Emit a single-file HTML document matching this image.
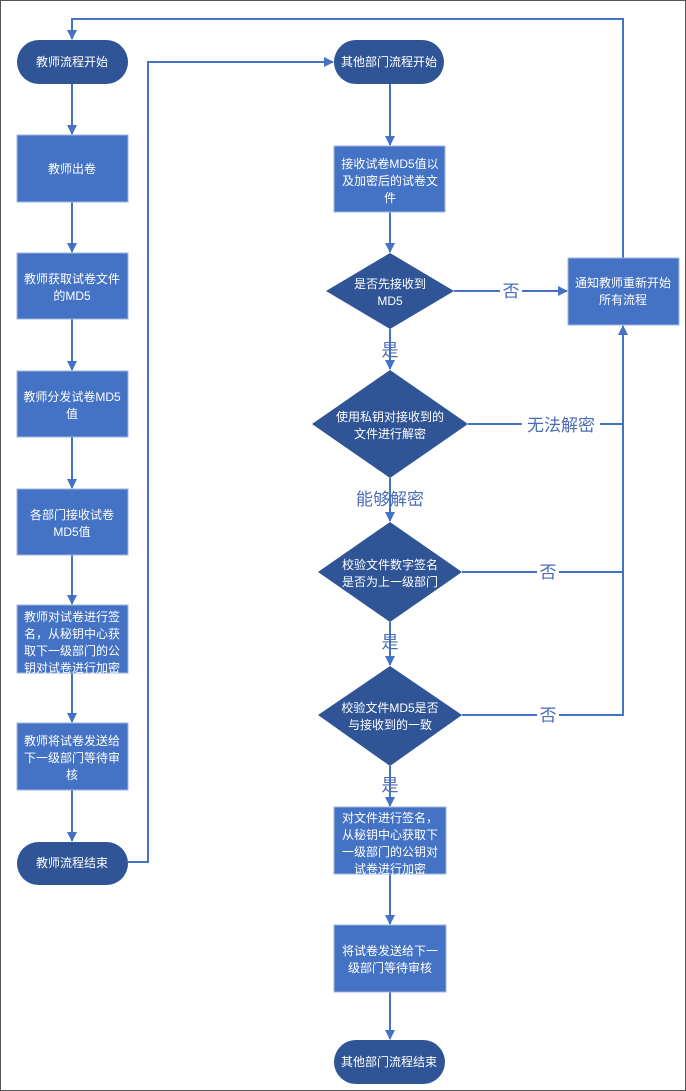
<!DOCTYPE html>
<html><head><meta charset="utf-8"><style>
html,body{margin:0;padding:0;background:#fff}
svg{display:block}
text{font-family:"Liberation Sans","Noto Sans CJK SC",sans-serif;}
.w{fill:#fff;font-size:12px;text-anchor:middle}
.l{fill:#4a6db5;font-size:17px;text-anchor:middle}
</style></head><body>
<svg width="686" height="1091" viewBox="0 0 686 1091" xmlns="http://www.w3.org/2000/svg">
<defs><marker id="a" markerWidth="10" markerHeight="10" refX="9" refY="5" orient="auto" markerUnits="userSpaceOnUse"><path d="M0,0 L10,5 L0,10 z" fill="#4472C4"/></marker></defs>
<rect x="0.5" y="0.5" width="685" height="1090" fill="#fff" stroke="#555" stroke-width="1"/>
<g stroke="#4472C4" stroke-width="2" fill="none">
<!-- left column -->
<line x1="72" y1="84" x2="72" y2="134" marker-end="url(#a)"/>
<line x1="72" y1="202" x2="72" y2="252" marker-end="url(#a)"/>
<line x1="72" y1="319" x2="72" y2="370" marker-end="url(#a)"/>
<line x1="72" y1="437" x2="72" y2="488" marker-end="url(#a)"/>
<line x1="72" y1="555" x2="72" y2="604" marker-end="url(#a)"/>
<line x1="72" y1="673" x2="72" y2="722" marker-end="url(#a)"/>
<line x1="72" y1="790" x2="72" y2="841" marker-end="url(#a)"/>
<polyline points="128,862 148,862 148,62 333,62" marker-end="url(#a)"/>
<polyline points="623,258 623,19 72,19 72,39" marker-end="url(#a)"/>
<!-- right column -->
<line x1="390" y1="84" x2="390" y2="145" marker-end="url(#a)"/>
<line x1="390" y1="212" x2="390" y2="252" marker-end="url(#a)"/>
<line x1="390" y1="329" x2="390" y2="369" marker-end="url(#a)"/>
<line x1="390" y1="478" x2="390" y2="521" marker-end="url(#a)"/>
<line x1="390" y1="622" x2="390" y2="665" marker-end="url(#a)"/>
<line x1="390" y1="766" x2="390" y2="806" marker-end="url(#a)"/>
<line x1="390" y1="874" x2="390" y2="924" marker-end="url(#a)"/>
<line x1="390" y1="992" x2="390" y2="1039" marker-end="url(#a)"/>
<line x1="454" y1="291" x2="567" y2="291" marker-end="url(#a)"/>
<polyline points="468,424 623,424"/>
<polyline points="462,572 623,572"/>
<polyline points="462,715 623,715 623,326" marker-end="url(#a)"/>
</g>
<g fill="#2F5597">
<rect x="17" y="40" width="111" height="44" rx="22"/>
<rect x="17" y="842" width="111" height="43" rx="21.5"/>
<rect x="334" y="40" width="110" height="44" rx="22"/>
<rect x="334" y="1040" width="111" height="44" rx="22"/>
<polygon points="390,253 454,291 390,329 326,291"/>
<polygon points="390,370 468,424 390,478 312,424"/>
<polygon points="390,522 462,572 390,622 318,572"/>
<polygon points="390,666 462,715 390,766 318,715"/>
</g>
<g fill="#4472C4" stroke="#9fb5e0" stroke-width="1">
<rect x="17" y="135" width="111" height="67"/>
<rect x="17" y="253" width="111" height="66"/>
<rect x="17" y="371" width="111" height="66"/>
<rect x="17" y="489" width="111" height="66"/>
<rect x="17" y="605" width="111" height="68"/>
<rect x="17" y="723" width="111" height="67"/>
<rect x="334" y="146" width="111" height="66"/>
<rect x="568" y="258" width="111" height="67"/>
<rect x="334" y="807" width="112" height="67"/>
<rect x="334" y="925" width="112" height="67"/>
</g>
<g class="w">
<text x="72" y="66">教师流程开始</text>
<text x="72" y="173">教师出卷</text>
<text x="72" y="283">教师获取试卷文件</text><text x="72" y="300">的MD5</text>
<text x="72" y="401">教师分发试卷MD5</text><text x="72" y="418">值</text>
<text x="72" y="519">各部门接收试卷</text><text x="72" y="536">MD5值</text>
<text x="72" y="621">教师对试卷进行签</text><text x="72" y="638">名，从秘钥中心获</text><text x="72" y="655">取下一级部门的公</text><text x="72" y="672">钥对试卷进行加密</text>
<text x="72" y="745">教师将试卷发送给</text><text x="72" y="762">下一级部门等待审</text><text x="72" y="779">核</text>
<text x="72" y="867">教师流程结束</text>
<text x="389" y="66">其他部门流程开始</text>
<text x="390" y="168">接收试卷MD5值以</text><text x="390" y="185">及加密后的试卷文</text><text x="390" y="202">件</text>
<text x="390" y="288">是否先接收到</text><text x="390" y="305">MD5</text>
<text x="390" y="421">使用私钥对接收到的</text><text x="390" y="438">文件进行解密</text>
<text x="390" y="569">校验文件数字签名</text><text x="390" y="586">是否为上一级部门</text>
<text x="390" y="712">校验文件MD5是否</text><text x="390" y="729">与接收到的一致</text>
<text x="623" y="287">通知教师重新开始</text><text x="623" y="304">所有流程</text>
<text x="390" y="822">对文件进行签名，</text><text x="390" y="839">从秘钥中心获取下</text><text x="390" y="856">一级部门的公钥对</text><text x="390" y="873">试卷进行加密</text>
<text x="390" y="955">将试卷发送给下一</text><text x="390" y="972">级部门等待审核</text>
<text x="389" y="1066">其他部门流程结束</text>
</g>
<g class="l">
<rect x="500" y="280" width="22" height="22" fill="#fff"/>
<text x="511" y="297">否</text>
<text x="390" y="356">是</text>
<rect x="522" y="414" width="78" height="22" fill="#fff"/>
<text x="561" y="431">无法解密</text>
<text x="390" y="505">能够解密</text>
<rect x="537" y="561" width="22" height="22" fill="#fff"/>
<text x="548" y="578">否</text>
<text x="390" y="648">是</text>
<rect x="537" y="704" width="22" height="22" fill="#fff"/>
<text x="548" y="721">否</text>
<text x="390" y="791">是</text>
</g>
</svg>
</body></html>
